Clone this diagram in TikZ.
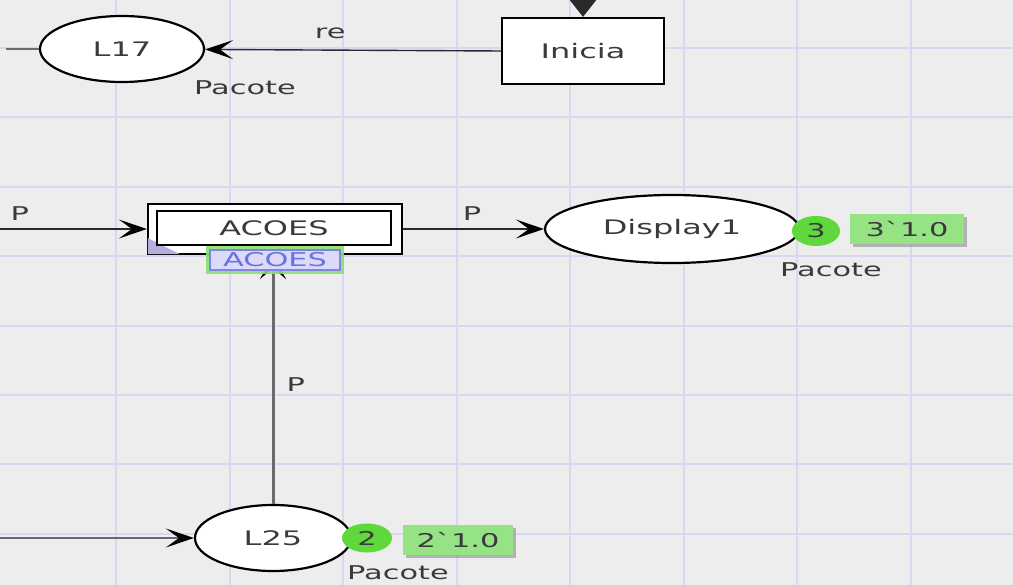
\documentclass[tikz,border=0pt]{standalone}
\usepackage{fontspec}
\setmainfont[Ligatures=TeXOff]{DejaVu Sans}
\usetikzlibrary{shapes.geometric,arrows.meta,shadows}
\newcommand\sx[1]{\scalebox{1.6}[1]{#1}}
\definecolor{bgc}{HTML}{EDEDED}
\definecolor{gridc}{HTML}{D9D8F2}
\definecolor{txtc}{HTML}{3A3A3A}
\definecolor{arcc}{HTML}{2A2A2A}
\definecolor{arcg}{HTML}{6A6A6A}
\definecolor{tokc}{HTML}{5ED83C}
\definecolor{markc}{HTML}{95E385}
\definecolor{tagfill}{HTML}{DCDAF8}
\definecolor{tagline}{HTML}{7C86E6}
\definecolor{tagtext}{HTML}{6673E4}
\definecolor{glowc}{HTML}{86E06C}
\definecolor{cornerc}{HTML}{B4AEDC}
\begin{document}
\begin{tikzpicture}[x=1pt,y=-1pt,
 place/.style={ellipse, draw=black, line width=2.2pt, fill=white, inner sep=0pt, text=txtc, font=\fontsize{20}{20}\selectfont},
 trans/.style={rectangle, draw=black, line width=2.2pt, fill=white, inner sep=0pt, text=txtc, font=\fontsize{20}{20}\selectfont},
 token/.style={ellipse, fill=tokc, inner sep=0pt, text=txtc, font=\fontsize{19}{19}\selectfont},
 marking/.style={rectangle, fill=markc, inner sep=0pt, text=txtc, font=\fontsize{19}{19}\selectfont, drop shadow={shadow xshift=3pt, shadow yshift=-3pt, fill=black!45, opacity=0.6}},
 typelbl/.style={text=txtc, font=\fontsize{19}{19}\selectfont, inner sep=0pt},
 arclbl/.style={text=txtc, font=\fontsize{19}{19}\selectfont, inner sep=0pt},
 arcline/.style={draw=arcc, line width=1.4pt, -{Stealth[length=28pt,width=19pt,inset=13pt,color=black,fill=black]}},
 arcvert/.style={draw=arcg, line width=3pt, -{Stealth[length=24pt,width=26pt,inset=11pt,color=black,fill=black]}},
 tagbox/.style={rectangle, fill=tagfill, draw=tagline, line width=1.2pt, inner sep=0pt, text=tagtext, font=\fontsize{19}{19}\selectfont, preaction={draw=glowc, line width=8pt, opacity=0.9}},
]
\fill[bgc] (0,0) rectangle (1013,585);
\useasboundingbox (0,0) rectangle (1013,585);
\clip (0,0) rectangle (1013,585);
\foreach \gx in {116,229.5,343,456.5,570,683.5,797,910.5}
  \draw[gridc, line width=2pt] (\gx,0) -- (\gx,585);
\foreach \gy in {48,117.4,186.8,256.2,325.6,395,464.4,533.8}
  \draw[gridc, line width=2pt] (0,\gy) -- (1013,\gy);

% places and transitions
\node[place, minimum width=164pt, minimum height=66pt] (L17) at (122,49) {\sx{L17}};
\node[typelbl] (L17t) at (245,88) {\sx{Pacote}};
\node[trans, minimum width=162pt, minimum height=66pt] (ini) at (583,51) {\sx{Inicia}};

\node[trans, minimum width=254pt, minimum height=50pt] (acoes) at (275,229) {};
\fill[cornerc] ([shift={(1,-1)}]acoes.south west) -- ([shift={(1,-17)}]acoes.south west) -- ([shift={(33,-1)}]acoes.south west) -- cycle;
\node[trans, line width=2.6pt, minimum width=234pt, minimum height=34pt] (acoesin) at (274,228) {\sx{ACOES}};

\node[place, minimum width=254pt, minimum height=68pt] (disp) at (672,229) {\sx{Display1}};
\node[typelbl] (dispt) at (831,270) {\sx{Pacote}};

\node[place, minimum width=156pt, minimum height=66pt] (L25) at (273,538) {\sx{L25}};
\node[typelbl] (L25t) at (398,573) {\sx{Pacote}};

% arcs
\coordinate (L17out) at (6,49);
\draw[arcg, line width=1.4pt] (L17.west) -- (L17out);
\coordinate (iniin) at (583,-6);
\draw[arcc, line width=1.5pt, -{Triangle[length=18pt,width=28pt]}] (iniin) -- (ini.north);
\draw[arcline] (ini.west) -- (L17) node[arclbl, pos=0.577, yshift=17pt] {\sx{re}};

\coordinate (acin) at (0,229);
\draw[arcline] (acin) -- (acoes.west) node[arclbl, pos=0.135, yshift=15pt] {\sx{P}};
\draw[arcline] (acoes.east) -- (disp) node[arclbl, pos=0.49, yshift=15pt] {\sx{P}};

\coordinate (L25in) at (0,538);
\draw[arcline, draw=arcg] (L25in) -- (L25.west);
\draw[arcvert] (L25.north) -- (L25.north |- acoes.south) node[arclbl, pos=0.478, anchor=west, xshift=12pt] {\sx{P}};

% tokens and markings
\node[token, minimum width=48pt, minimum height=30pt] (tok1) at (816,231) {\sx{3}};
\node[marking, minimum width=114pt, minimum height=30pt] (mk1) at (907,229) {\sx{3`1.0}};
\node[token, minimum width=50pt, minimum height=29pt] (tok2) at (367,538) {\sx{2}};
\node[marking, minimum width=110pt, minimum height=30pt] (mk2) at (458,540) {\sx{2`1.0}};

% substitution tag
\node[tagbox, minimum width=130pt, minimum height=20pt] (acoestag) at (275,260) {\sx{ACOES}};
\end{tikzpicture}
\end{document}
